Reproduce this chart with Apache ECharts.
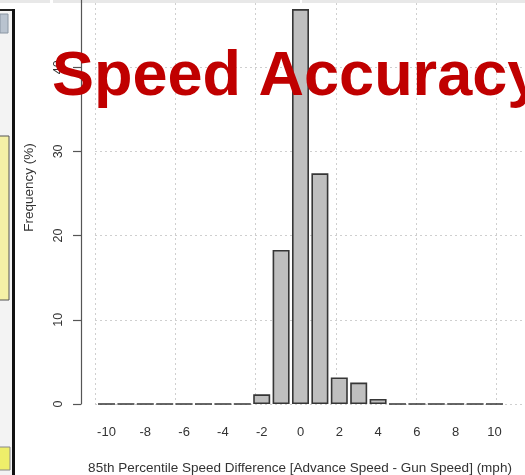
<!DOCTYPE html>
<html><head><meta charset="utf-8">
<script src="https://cdn.jsdelivr.net/npm/echarts@6/dist/echarts.min.js"></script>
<style>html,body{margin:0;padding:0;background:#fff}#c{width:525px;height:475px}</style>
</head><body><div id="c"></div>
<script>
// Histogram bins (mph) and frequencies (%)
const binCenters = [-10,-9,-8,-7,-6,-5,-4,-3,-2,-1,0,1,2,3,4,5,6,7,8,9,10];
const frequency  = [0,0,0,0,0,0,0,0,1.15,18.3,46.9,27.4,3.15,2.55,0.6,0,0,0,0,0,0];
const xTickLabels = [-10,-8,-6,-4,-2,0,2,4,6,8,10];
const titleText = 'Speed Accuracy';
const xTitle = '85th Percentile Speed Difference [Advance Speed - Gun Speed] (mph)';
const yTitle = 'Frequency (%)';

const FONT = '"Liberation Sans", Arial, sans-serif';
const TXT = '#333';
const gridLine = { show: true, lineStyle: { color: '#cfcfcf', type: [2, 3], width: 1 } };

const chart = echarts.init(document.getElementById('c'), null, { renderer: 'canvas' });
chart.setOption({
  animation: false,
  backgroundColor: '#fff',
  textStyle: { fontFamily: FONT },
  title: {
    text: titleText, left: 52, top: 46, padding: 0, z: 10,
    textStyle: { fontSize: 63, fontWeight: 'bold', color: '#c00000', fontFamily: FONT }
  },
  grid: { left: 95, right: -52, top: -17, bottom: 71, containLabel: false, outerBoundsMode: 'none' },
  xAxis: [
    {
      type: 'value', min: -10.593, max: 14.253, position: 'bottom',
      axisLine: { show: false }, axisTick: { show: false }, splitLine: { show: false },
      axisLabel: { customValues: xTickLabels, margin: 22, fontSize: 13, color: TXT, fontFamily: FONT },
      name: xTitle, nameLocation: 'middle', nameGap: 57,
      nameTextStyle: { fontSize: 13.5, color: TXT, fontFamily: FONT, padding: [0, 72, 0, 0] }
    },
    {
      type: 'value', min: 0, max: 6, interval: 1, position: 'bottom',
      axisLine: { show: false }, axisTick: { show: false }, axisLabel: { show: false },
      splitLine: gridLine
    }
  ],
  yAxis: {
    type: 'value', min: 0, max: 50, interval: 10, offset: 14,
    axisLine: { show: true, onZero: false, lineStyle: { color: '#555', width: 1.2 } },
    axisTick: { show: true, length: 8, lineStyle: { color: '#555', width: 1.2 } },
    axisLabel: { rotate: 90, margin: 16, fontSize: 12.5, color: TXT, fontFamily: FONT },
    splitLine: gridLine,
    name: yTitle, nameLocation: 'middle', nameGap: 45,
    nameTextStyle: { fontSize: 13.5, color: TXT, fontFamily: FONT, padding: [0, 0, 0, 12] }
  },
  series: [{
    type: 'bar', xAxisIndex: 0, barWidth: 17,
    data: binCenters.map((x, i) => [x, frequency[i]]),
    itemStyle: { color: '#bfbfbf', borderColor: '#363636', borderWidth: 1.6 },
    silent: true
  }],
  graphic: [
    { type: 'rect', shape: { x: 0, y: 0, width: 50, height: 3 }, style: { fill: '#e8e8e8' } },
    { type: 'rect', shape: { x: 53, y: 0, width: 247, height: 3 }, style: { fill: '#e8e8e8' } },
    { type: 'rect', shape: { x: 302, y: 0, width: 223, height: 3 }, style: { fill: '#e8e8e8' } },
    { type: 'rect', shape: { x: 0, y: 10, width: 12, height: 465 }, style: { fill: '#f3f3f3' } },
    { type: 'rect', shape: { x: 0, y: 9, width: 15, height: 2 }, style: { fill: '#222' } },
    { type: 'rect', shape: { x: 12, y: 9, width: 3, height: 466 }, style: { fill: '#111' } },
    { type: 'rect', shape: { x: 0, y: 14, width: 8, height: 19 }, style: { fill: '#b9c3cf', stroke: '#8a96a3', lineWidth: 1 } },
    { type: 'rect', shape: { x: -1, y: 136, width: 10, height: 164 }, style: { fill: '#f4f0a6', stroke: '#555', lineWidth: 1 } },
    { type: 'rect', shape: { x: -1, y: 447, width: 11, height: 23 }, style: { fill: '#eeee6a', stroke: '#888', lineWidth: 1 } }
  ]
});
</script></body></html>
